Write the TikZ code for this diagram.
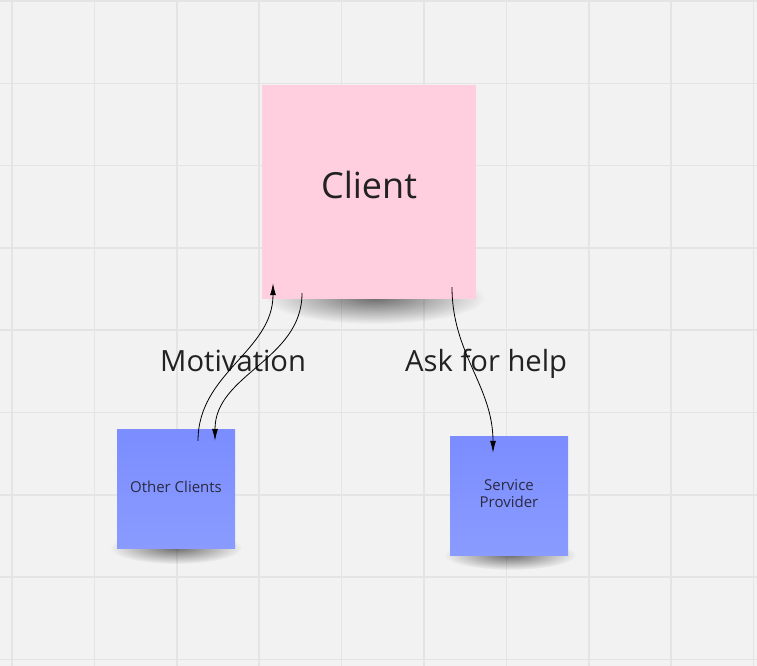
\documentclass[tikz,border=0pt]{standalone}
\usepackage{fontspec}
\setmainfont{Open Sans}
\usetikzlibrary{positioning,arrows.meta,fadings}
\definecolor{boardbg}{HTML}{F2F2F2}
\definecolor{gridline}{HTML}{E4E4E4}
\definecolor{notepink}{HTML}{FFCEDF}
\definecolor{noteblue}{HTML}{7B8DFF}
\definecolor{noteblue2}{HTML}{8A9BFF}
\definecolor{inktext}{HTML}{222222}
\definecolor{notetext}{HTML}{2A2A40}
\tikzfading[name=softblob,inner color=transparent!45,outer color=transparent!100]

\begin{document}
\begin{tikzpicture}[x=1pt,y=1pt,on grid,>={Latex[length=12pt,width=6pt]}]
  \tikzstyle{bignote}=[rectangle,fill=notepink,minimum size=214pt,text=inktext,
                       font=\fontsize{36}{40}\selectfont,text depth=14pt]
  \tikzstyle{smallnote}=[rectangle,top color=noteblue,bottom color=noteblue2,
                         minimum width=118pt,minimum height=119pt,text=notetext,
                         align=center,font=\fontsize{15}{16.5}\selectfont,text depth=6pt]
  \tikzstyle{tag}=[text=inktext,anchor=base west,inner sep=0pt,font=\fontsize{29.2}{33}\selectfont]
  \tikzstyle{softshadow}=[fill=black,path fading=softblob]

  % board
  \useasboundingbox (0,0) rectangle (757,666);
  \fill[boardbg] (0,0) rectangle (757,666);
  \foreach \i in {0,...,9}
    \draw[gridline,line width=1.5pt] (12+82.4*\i,0) -- (12+82.4*\i,666);
  \foreach \j in {0,...,8}
    \draw[gridline,line width=1.5pt] (0,665-82.3*\j) -- (757,665-82.3*\j);

  % shadows under the notes
  \fill[softshadow] (375,368) ellipse (110pt and 26pt);
  \fill[softshadow] (176,118) ellipse (66pt and 16pt);
  \fill[softshadow] (510,111) ellipse (66pt and 15pt);

  \node[bignote] (client) at (369,474) {Client};
  \node[smallnote] (others) [below left=297.5pt and 193pt of client] {Other Clients};
  \node[smallnote] (provider) [below right=304.5pt and 140pt of client] {Service\\Provider};

  \node[tag] (motivation) at (160,294) {Motivation};
  \node[tag] (askhelp) at (405,294) {Ask for help};

  \coordinate (cl-in)  at ([xshift=-96pt,yshift=16pt]client.south);
  \coordinate (cl-out) at ([xshift=-67pt,yshift=6pt]client.south);
  \coordinate (cl-ask) at ([xshift=83pt,yshift=12pt]client.south);
  \coordinate (ot-out) at ([xshift=22pt,yshift=-11pt]others.north);
  \coordinate (ot-in)  at ([xshift=39pt,yshift=-11pt]others.north);
  \coordinate (pr-in)  at ([xshift=-16pt,yshift=-16pt]provider.north);

  \path[->,line width=0.8pt] (ot-out) edge [out=90,in=-90] (cl-in);
  \path[->,line width=0.8pt] (cl-out) edge [out=-90,in=90] (ot-in);
  \path[->,line width=0.8pt] (cl-ask) edge [out=-90,in=90] (pr-in);
\end{tikzpicture}
\end{document}
